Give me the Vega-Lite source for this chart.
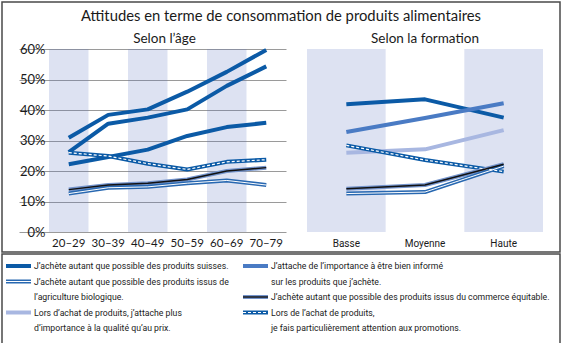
{
  "$schema": "https://vega.github.io/schema/vega-lite/v6.json",
  "padding": {"left": 1, "top": 1, "right": 2, "bottom": 1},
  "background": "white",
  "config": {
    "font": "Lato",
    "axis": {"domain": false, "ticks": false},
    "view": {"stroke": null}
  },
  "datasets": {
    "age": [
      {"serie": "suisses", "age": "20–29", "valeur": 30.9},
      {"serie": "suisses", "age": "30–39", "valeur": 38.4},
      {"serie": "suisses", "age": "40–49", "valeur": 40.2},
      {"serie": "suisses", "age": "50–59", "valeur": 46.0},
      {"serie": "suisses", "age": "60–69", "valeur": 52.5},
      {"serie": "suisses", "age": "70–79", "valeur": 59.7},
      {"serie": "informe", "age": "20–29", "valeur": 26.2},
      {"serie": "informe", "age": "30–39", "valeur": 35.5},
      {"serie": "informe", "age": "40–49", "valeur": 37.5},
      {"serie": "informe", "age": "50–59", "valeur": 40.2},
      {"serie": "informe", "age": "60–69", "valeur": 47.9},
      {"serie": "informe", "age": "70–79", "valeur": 54.3},
      {"serie": "qualite", "age": "20–29", "valeur": 22.2},
      {"serie": "qualite", "age": "30–39", "valeur": 24.6},
      {"serie": "qualite", "age": "40–49", "valeur": 27.0},
      {"serie": "qualite", "age": "50–59", "valeur": 31.5},
      {"serie": "qualite", "age": "60–69", "valeur": 34.4},
      {"serie": "qualite", "age": "70–79", "valeur": 35.8},
      {"serie": "promotions", "age": "20–29", "valeur": 26.0},
      {"serie": "promotions", "age": "30–39", "valeur": 24.9},
      {"serie": "promotions", "age": "40–49", "valeur": 22.4},
      {"serie": "promotions", "age": "50–59", "valeur": 20.5},
      {"serie": "promotions", "age": "60–69", "valeur": 23.0},
      {"serie": "promotions", "age": "70–79", "valeur": 23.7},
      {"serie": "equitable", "age": "20–29", "valeur": 13.9},
      {"serie": "equitable", "age": "30–39", "valeur": 15.4},
      {"serie": "equitable", "age": "40–49", "valeur": 16.0},
      {"serie": "equitable", "age": "50–59", "valeur": 17.2},
      {"serie": "equitable", "age": "60–69", "valeur": 20.0},
      {"serie": "equitable", "age": "70–79", "valeur": 21.1},
      {"serie": "bio", "age": "20–29", "valeur": 12.6},
      {"serie": "bio", "age": "30–39", "valeur": 14.5},
      {"serie": "bio", "age": "40–49", "valeur": 14.8},
      {"serie": "bio", "age": "50–59", "valeur": 16.0},
      {"serie": "bio", "age": "60–69", "valeur": 16.9},
      {"serie": "bio", "age": "70–79", "valeur": 15.4}
    ],
    "formation": [
      {"serie": "suisses", "formation": "Basse", "valeur": 41.9},
      {"serie": "suisses", "formation": "Moyenne", "valeur": 43.5},
      {"serie": "suisses", "formation": "Haute", "valeur": 37.5},
      {"serie": "informe", "formation": "Basse", "valeur": 32.8},
      {"serie": "informe", "formation": "Moyenne", "valeur": 37.4},
      {"serie": "informe", "formation": "Haute", "valeur": 42.2},
      {"serie": "qualite", "formation": "Basse", "valeur": 26.0},
      {"serie": "qualite", "formation": "Moyenne", "valeur": 27.1},
      {"serie": "qualite", "formation": "Haute", "valeur": 33.4},
      {"serie": "promotions", "formation": "Basse", "valeur": 28.4},
      {"serie": "promotions", "formation": "Moyenne", "valeur": 23.6},
      {"serie": "promotions", "formation": "Haute", "valeur": 19.8},
      {"serie": "equitable", "formation": "Basse", "valeur": 14.2},
      {"serie": "equitable", "formation": "Moyenne", "valeur": 15.4},
      {"serie": "equitable", "formation": "Haute", "valeur": 22.2},
      {"serie": "bio", "formation": "Basse", "valeur": 12.6},
      {"serie": "bio", "formation": "Moyenne", "valeur": 13.1},
      {"serie": "bio", "formation": "Haute", "valeur": 21.6}
    ],
    "legende": [
      {"serie": "suisses", "colonne": "1", "ligne": 1, "rang": 1, "texte": "J’achète autant que possible des produits suisses."},
      {"serie": "bio", "colonne": "1", "ligne": 2, "rang": 1, "texte": "J’achète autant que possible des produits issus de"},
      {"serie": "bio", "colonne": "1", "ligne": 3, "rang": 2, "texte": "l’agriculture biologique."},
      {"serie": "qualite", "colonne": "1", "ligne": 4, "rang": 1, "texte": "Lors d’achat de produits, j’attache plus"},
      {"serie": "qualite", "colonne": "1", "ligne": 5, "rang": 2, "texte": "d’importance à la qualité qu’au prix."},
      {"serie": "informe", "colonne": "2", "ligne": 1, "rang": 1, "texte": "J’attache de l’importance à être bien informé"},
      {"serie": "informe", "colonne": "2", "ligne": 2, "rang": 2, "texte": "sur les produits que j’achète."},
      {"serie": "equitable", "colonne": "2", "ligne": 3, "rang": 1, "texte": "J’achète autant que possible des produits issus du commerce équitable."},
      {"serie": "promotions", "colonne": "2", "ligne": 4, "rang": 1, "texte": "Lors de l’achat de produits,"},
      {"serie": "promotions", "colonne": "2", "ligne": 5, "rang": 2, "texte": "je fais particulièrement attention aux promotions."}
    ]
  },
  "spacing": 0,
  "vconcat": [
    {
      "width": 558,
      "height": 250,
      "view": {"stroke": "#4a4a4a", "strokeWidth": 1.5},
      "title": {"text": "Attitudes en terme de consommation de produits alimentaires", "offset": -22, "font": "Lato", "fontSize": 14.8, "fontWeight": "normal", "color": "#1a1a1a", "anchor": "middle"},
      "resolve": {
        "scale": {"x": "independent", "y": "independent", "color": "independent", "strokeWidth": "independent"},
        "axis": {"x": "independent", "y": "independent"}
      },
      "layer": [
        {
          "layer": [
            {
              "data": {"values": [{"age": "20–29"}, {"age": "40–49"}, {"age": "60–69"}]},
              "mark": {"type": "rect", "fill": "#556ebe", "fillOpacity": 0.2},
              "encoding": {
                "x": {"field": "age", "type": "nominal", "sort": ["20–29", "30–39", "40–49", "50–59", "60–69", "70–79"],
                      "scale": {"domain": ["20–29", "30–39", "40–49", "50–59", "60–69", "70–79"], "range": [47, 284], "paddingInner": 0, "paddingOuter": 0},
                      "axis": {"orient": "bottom", "offset": -20, "title": null, "labelAngle": 0, "labelFont": "Lato", "labelFontSize": 11.5, "labelPadding": 5, "labelColor": "#1a1a1a", "grid": false}},
                "y": {"datum": 0, "type": "quantitative",
                      "scale": {"domain": [0, 60], "range": [230, 47], "nice": false},
                      "axis": {"values": [0, 10, 20, 30, 40, 50, 60], "labelExpr": "datum.label + '%'", "offset": -47, "grid": true, "gridColor": "#9a9a9a", "gridWidth": 1, "title": null, "labelFont": "Lato", "labelFontSize": 13, "labelPadding": 4, "labelColor": "#1a1a1a"}},
                "y2": {"datum": 60}
              }
            },
            {
              "data": {"values": [{"t": "Selon l’âge"}]},
              "mark": {"type": "text", "font": "Lato", "fontSize": 13.5, "color": "#1a1a1a", "baseline": "middle", "dx": -3},
              "encoding": {
                "x": {"datum": "40–49", "bandPosition": 1},
                "y": {"datum": 63.3},
                "text": {"field": "t"}
              }
            },
            {
              "data": {"name": "age"},
              "mark": {"type": "line", "strokeJoin": "round"},
              "encoding": {
                "x": {"field": "age", "type": "nominal", "sort": ["20–29", "30–39", "40–49", "50–59", "60–69", "70–79"]},
                "y": {"field": "valeur", "type": "quantitative"},
                "color": {"field": "serie", "type": "nominal", "legend": null,
                          "scale": {"domain": ["qualite", "informe", "suisses", "promotions", "bio", "equitable"], "range": ["#0b5aa6", "#0b5aa6", "#0b5aa6", "#0b5aa6", "#2868b1", "#7393cb"]}},
                "strokeWidth": {"field": "serie", "type": "nominal", "legend": null,
                          "scale": {"domain": ["qualite", "informe", "suisses", "promotions", "bio", "equitable"], "range": [4, 4, 4, 4, 4, 3.2]}}
              }
            },
            {
              "data": {"name": "age"},
              "transform": [{"filter": "datum.serie == 'bio'"}],
              "mark": {"type": "line", "color": "white", "strokeWidth": 1, "strokeJoin": "round"},
              "encoding": {
                "x": {"field": "age", "type": "nominal", "sort": ["20–29", "30–39", "40–49", "50–59", "60–69", "70–79"]},
                "y": {"field": "valeur", "type": "quantitative"}
              }
            },
            {
              "data": {"name": "age"},
              "transform": [{"filter": "datum.serie == 'promotions'"}],
              "mark": {"type": "line", "color": "white", "strokeWidth": 1.2, "strokeDash": [3, 2], "strokeJoin": "round"},
              "encoding": {
                "x": {"field": "age", "type": "nominal", "sort": ["20–29", "30–39", "40–49", "50–59", "60–69", "70–79"]},
                "y": {"field": "valeur", "type": "quantitative"}
              }
            },
            {
              "data": {"name": "age"},
              "transform": [{"filter": "datum.serie == 'equitable'"}],
              "mark": {"type": "line", "color": "#111111", "strokeWidth": 1.4, "strokeJoin": "round"},
              "encoding": {
                "x": {"field": "age", "type": "nominal", "sort": ["20–29", "30–39", "40–49", "50–59", "60–69", "70–79"]},
                "y": {"field": "valeur", "type": "quantitative"}
              }
            }
          ]
        },
        {
          "layer": [
            {
              "data": {"values": [{"formation": "Basse"}, {"formation": "Haute"}]},
              "mark": {"type": "rect", "fill": "#556ebe", "fillOpacity": 0.2},
              "encoding": {
                "x": {"field": "formation", "type": "nominal", "sort": ["Basse", "Moyenne", "Haute"],
                      "scale": {"domain": ["Basse", "Moyenne", "Haute"], "range": [305, 541], "paddingInner": 0, "paddingOuter": 0},
                      "axis": {"orient": "bottom", "offset": -20, "title": null, "labelAngle": 0, "labelFont": "Roboto", "labelFontSize": 10, "labelPadding": 6, "labelColor": "#1a1a1a", "grid": false}},
                "y": {"datum": 0, "type": "quantitative",
                      "scale": {"domain": [0, 60], "range": [230, 47], "nice": false},
                      "axis": {"values": [0, 10, 20, 30, 40, 50, 60], "labels": false, "grid": true, "gridColor": "#9a9a9a", "gridWidth": 1, "title": null}},
                "y2": {"datum": 60}
              }
            },
            {
              "data": {"values": [{"t": "Selon la formation"}]},
              "mark": {"type": "text", "font": "Lato", "fontSize": 13.5, "color": "#1a1a1a", "baseline": "middle", "dx": 0},
              "encoding": {
                "x": {"datum": "Moyenne"},
                "y": {"datum": 63.3},
                "text": {"field": "t"}
              }
            },
            {
              "data": {"name": "formation"},
              "mark": {"type": "line", "strokeJoin": "round"},
              "encoding": {
                "x": {"field": "formation", "type": "nominal", "sort": ["Basse", "Moyenne", "Haute"]},
                "y": {"field": "valeur", "type": "quantitative"},
                "color": {"field": "serie", "type": "nominal", "legend": null,
                          "scale": {"domain": ["qualite", "informe", "suisses", "promotions", "bio", "equitable"], "range": ["#a8b7e1", "#4a7bc4", "#0b5aa6", "#0b5aa6", "#2868b1", "#7393cb"]}},
                "strokeWidth": {"field": "serie", "type": "nominal", "legend": null,
                          "scale": {"domain": ["qualite", "informe", "suisses", "promotions", "bio", "equitable"], "range": [4, 4, 4, 4, 4, 3.2]}}
              }
            },
            {
              "data": {"name": "formation"},
              "transform": [{"filter": "datum.serie == 'bio'"}],
              "mark": {"type": "line", "color": "white", "strokeWidth": 1, "strokeJoin": "round"},
              "encoding": {
                "x": {"field": "formation", "type": "nominal", "sort": ["Basse", "Moyenne", "Haute"]},
                "y": {"field": "valeur", "type": "quantitative"}
              }
            },
            {
              "data": {"name": "formation"},
              "transform": [{"filter": "datum.serie == 'promotions'"}],
              "mark": {"type": "line", "color": "white", "strokeWidth": 1.2, "strokeDash": [3, 2], "strokeJoin": "round"},
              "encoding": {
                "x": {"field": "formation", "type": "nominal", "sort": ["Basse", "Moyenne", "Haute"]},
                "y": {"field": "valeur", "type": "quantitative"}
              }
            },
            {
              "data": {"name": "formation"},
              "transform": [{"filter": "datum.serie == 'equitable'"}],
              "mark": {"type": "line", "color": "#111111", "strokeWidth": 1.4, "strokeJoin": "round"},
              "encoding": {
                "x": {"field": "formation", "type": "nominal", "sort": ["Basse", "Moyenne", "Haute"]},
                "y": {"field": "valeur", "type": "quantitative"}
              }
            }
          ]
        }
      ]
    },
    {
      "width": 558,
      "height": 90,
      "view": {"stroke": "#4a4a4a", "strokeWidth": 1.5},
      "data": {"name": "legende"},
      "encoding": {
        "x": {"field": "colonne", "type": "nominal", "scale": {"type": "point", "domain": ["1", "2"], "range": [4, 241], "padding": 0}, "axis": null},
        "y": {"field": "ligne", "type": "ordinal", "scale": {"type": "point", "domain": [1, 2, 3, 4, 5], "range": [12, 74], "padding": 0}, "axis": null}
      },
      "layer": [
        {
          "transform": [{"filter": "datum.rang == 1"}],
          "mark": {"type": "rule", "x2Offset": 25},
          "encoding": {
            "x2": {"field": "colonne"},
            "color": {"field": "serie", "type": "nominal", "legend": null,
                      "scale": {"domain": ["qualite", "informe", "suisses", "promotions", "bio", "equitable"], "range": ["#a8b7e1", "#4a7bc4", "#0b5aa6", "#0b5aa6", "#2868b1", "#7393cb"]}},
            "strokeWidth": {"field": "serie", "type": "nominal", "legend": null,
                      "scale": {"domain": ["qualite", "informe", "suisses", "promotions", "bio", "equitable"], "range": [4, 4, 4, 4, 4, 3.2]}}
          }
        },
        {
          "transform": [{"filter": "datum.rang == 1 && datum.serie == 'bio'"}],
          "mark": {"type": "rule", "x2Offset": 25, "color": "white", "strokeWidth": 1},
          "encoding": {"x2": {"field": "colonne"}}
        },
        {
          "transform": [{"filter": "datum.rang == 1 && datum.serie == 'promotions'"}],
          "mark": {"type": "rule", "x2Offset": 25, "color": "white", "strokeWidth": 1.2, "strokeDash": [3, 2]},
          "encoding": {"x2": {"field": "colonne"}}
        },
        {
          "transform": [{"filter": "datum.rang == 1 && datum.serie == 'equitable'"}],
          "mark": {"type": "rule", "x2Offset": 25, "color": "#111111", "strokeWidth": 1.4},
          "encoding": {"x2": {"field": "colonne"}}
        },
        {
          "mark": {"type": "text", "align": "left", "baseline": "middle", "dx": 28, "font": "Roboto", "fontSize": 8.7, "color": "#1a1a1a"},
          "encoding": {"text": {"field": "texte"}}
        }
      ]
    }
  ]
}
